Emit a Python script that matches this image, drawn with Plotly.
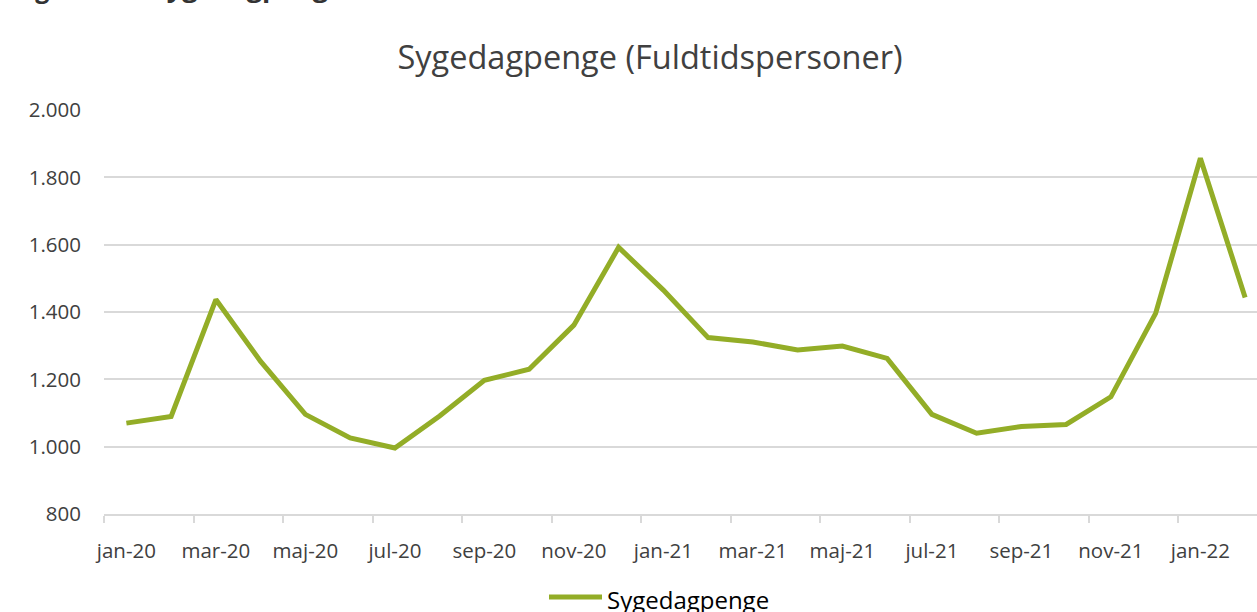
import plotly.graph_objects as go

months = ["jan-20", "feb-20", "mar-20", "apr-20", "maj-20", "jun-20", "jul-20", "aug-20",
          "sep-20", "okt-20", "nov-20", "dec-20", "jan-21", "feb-21", "mar-21", "apr-21",
          "maj-21", "jun-21", "jul-21", "aug-21", "sep-21", "okt-21", "nov-21", "dec-21",
          "jan-22", "feb-22"]
sygedagpenge = [1070, 1090, 1437, 1253, 1096, 1026, 996, 1091, 1197, 1230, 1361, 1592,
                1465, 1324, 1311, 1287, 1299, 1262, 1096, 1040, 1060, 1066, 1148, 1396,
                1857, 1443]
y_ticks = [800, 1000, 1200, 1400, 1600, 1800, 2000]
series_name = "Sygedagpenge"
title_text = "Sygedagpenge (Fuldtidspersoner)"

W, H = 1257, 612
L, R, T, B = 104, 0, 110, 98
plot_w = W - L - R
plot_h = H - T - B
cat_px = 44.75
x_max = -0.5 + plot_w / cat_px

x_idx = list(range(len(months)))
label_idx = x_idx[::2]

FONT = "'Open Sans', sans-serif"
GRID = "#D9D9D9"
TXT = "#404040"
LINE_COLOR = "#93AD27"


def px_x(p):
    return (p - L) / plot_w


def px_y(p):
    return (H - B - p) / plot_h


fig = go.Figure()
fig.add_trace(go.Scatter(
    x=x_idx, y=sygedagpenge, mode="lines", name=series_name,
    line=dict(color=LINE_COLOR, width=5), showlegend=False,
))

fig.update_layout(
    width=W, height=H,
    margin=dict(l=L, r=R, t=T, b=B, autoexpand=False),
    paper_bgcolor="white", plot_bgcolor="white",
    separators=",.",
    font=dict(family=FONT, color=TXT, size=20),
    title=dict(text=title_text, x=px_x(650), xref="paper", xanchor="center",
               y=1 - 58 / H, yref="container", yanchor="middle",
               font=dict(family=FONT, size=32.5, color=TXT)),
    showlegend=False,
    xaxis=dict(
        range=[-0.5, x_max], tickmode="array", tickvals=label_idx,
        ticktext=[months[i] for i in label_idx],
        ticks="", showgrid=False, zeroline=False,
        showline=True, linecolor=GRID, linewidth=1.5,
        ticklabelstandoff=18,
        tickfont=dict(family=FONT, size=20.5, color=TXT),
        minor=dict(ticks="outside", tick0=-0.5, dtick=2, ticklen=7,
                   tickcolor=GRID, tickwidth=1.5, showgrid=False),
    ),
    yaxis=dict(
        range=[800, 2000], tickmode="array", tickvals=y_ticks, tickformat=",d",
        showgrid=True, gridcolor=GRID, gridwidth=1.5, zeroline=False,
        showline=False, ticks="", ticklabelstandoff=22,
        tickfont=dict(family=FONT, size=20.5, color=TXT),
    ),
)

# legend (drawn as swatch + label, placed like the original, partly below the edge)
fig.add_shape(type="line", xref="paper", yref="paper",
              x0=px_x(549), x1=px_x(602), y0=px_y(597), y1=px_y(597),
              line=dict(color=LINE_COLOR, width=5))
fig.add_annotation(text=series_name, xref="paper", yref="paper",
                   x=px_x(605), xanchor="left", y=px_y(599), yanchor="middle",
                   showarrow=False, font=dict(family=FONT, size=24, color="#000000"))

# figure caption cut at the top edge
fig.add_annotation(text="<b>Figur 1</b>", xref="paper", yref="paper",
                   x=px_x(12), xanchor="left", y=px_y(7), yanchor="bottom",
                   showarrow=False, font=dict(family=FONT, size=25, color="#333333"))
fig.add_annotation(text="<b>Sygedagpenge</b>", xref="paper", yref="paper",
                   x=px_x(150), xanchor="left", y=px_y(7), yanchor="bottom",
                   showarrow=False, font=dict(family=FONT, size=27, color="#333333"))

fig.write_html("out.html", config={"displayModeBar": False},
               post_script="document.body.style.margin='0';")
